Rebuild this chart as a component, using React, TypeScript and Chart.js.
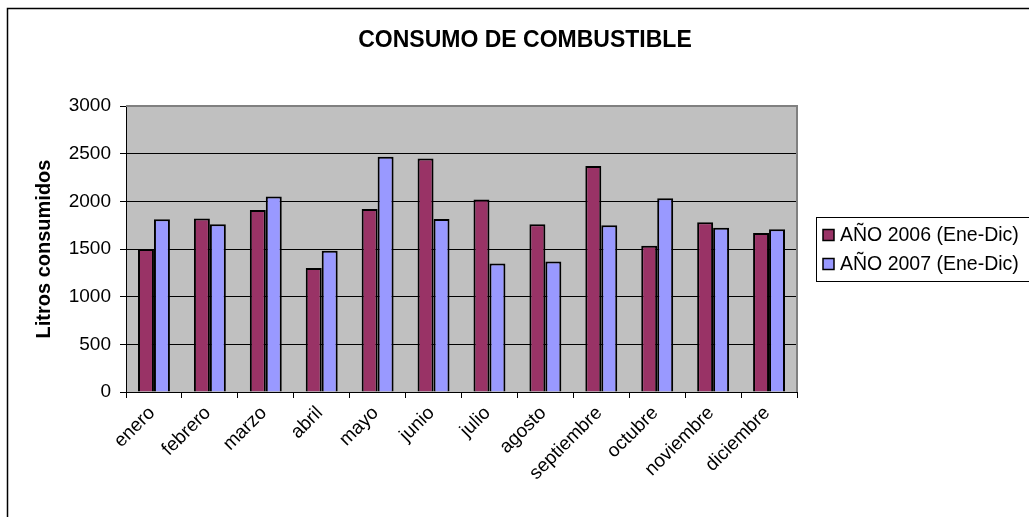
import React, { useEffect, useRef } from "react";
import { Chart, registerables } from "chart.js";

Chart.register(...registerables);

const TITLE = "CONSUMO DE COMBUSTIBLE";
const Y_TITLE = "Litros consumidos";
const categories = [
  "enero", "febrero", "marzo", "abril", "mayo", "junio",
  "julio", "agosto", "septiembre", "octubre", "noviembre", "diciembre",
];
const series2006Label = "AÑO 2006 (Ene-Dic)";
const series2007Label = "AÑO 2007 (Ene-Dic)";
const series2006 = [1500, 1820, 1910, 1300, 1920, 2450, 2020, 1760, 2370, 1535, 1780, 1668];
const series2007 = [1812, 1760, 2050, 1482, 2467, 1814, 1348, 1368, 1748, 2032, 1722, 1706];
const yTicks = [0, 500, 1000, 1500, 2000, 2500, 3000];

const FONT = "'Liberation Sans', Arial, sans-serif";

const framePlugin = {
  id: "framePlugin",
  beforeDraw(chart: any) {
    const { ctx, chartArea } = chart;
    ctx.save();
    ctx.fillStyle = "#ffffff";
    ctx.fillRect(0, 0, chart.width, chart.height);
    ctx.strokeStyle = "#000000";
    ctx.lineWidth = 1.5;
    ctx.beginPath();
    ctx.moveTo(7.5, chart.height + 2);
    ctx.lineTo(7.5, 8.5);
    ctx.lineTo(chart.width + 2, 8.5);
    ctx.stroke();
    ctx.fillStyle = "#C0C0C0";
    ctx.fillRect(chartArea.left, chartArea.top, chartArea.right - chartArea.left, chartArea.bottom - chartArea.top);
    ctx.restore();
  },
  afterDatasetsDraw(chart: any) {
    const { ctx, chartArea } = chart;
    ctx.save();
    ctx.strokeStyle = "#808080";
    ctx.lineWidth = 2;
    ctx.beginPath();
    ctx.moveTo(chartArea.left, chartArea.top);
    ctx.lineTo(chartArea.right, chartArea.top);
    ctx.lineTo(chartArea.right, chartArea.bottom);
    ctx.stroke();
    ctx.fillStyle = "#000";
    ctx.font = `bold 23px ${FONT}`;
    ctx.textAlign = "center";
    ctx.textBaseline = "middle";
    ctx.fillText(TITLE, 525, 41);
    const lx = 816, ly = 217, lh = 64;
    ctx.strokeStyle = "#000";
    ctx.lineWidth = 1;
    ctx.strokeRect(lx + 0.5, ly + 0.5, chart.width - lx + 10, lh);
    chart.data.datasets.forEach((ds: any, i: number) => {
      const cy = 235 + i * 29;
      ctx.fillStyle = ds.backgroundColor;
      ctx.fillRect(823, cy - 5.5, 11, 11);
      ctx.strokeStyle = "#000";
      ctx.lineWidth = 1.5;
      ctx.strokeRect(823, cy - 5.5, 11, 11);
      ctx.fillStyle = "#000";
      ctx.font = `19.5px ${FONT}`;
      ctx.textAlign = "left";
      ctx.textBaseline = "middle";
      ctx.fillText(ds.label, 840, cy + 1);
    });
    ctx.restore();
  },
};

export default function App() {
  const ref = useRef<HTMLCanvasElement>(null);
  useEffect(() => {
    if (!ref.current) return;
    const chart = new Chart(ref.current, {
      type: "bar",
      data: {
        labels: categories,
        datasets: [
          {
            label: series2006Label,
            data: series2006,
            backgroundColor: "#993366",
            borderColor: "#000000",
            borderWidth: 2,
            categoryPercentage: 0.571,
            barPercentage: 1.0,
          },
          {
            label: series2007Label,
            data: series2007,
            backgroundColor: "#9999FF",
            borderColor: "#000000",
            borderWidth: 2,
            categoryPercentage: 0.571,
            barPercentage: 1.0,
          },
        ],
      },
      options: {
        animation: false,
        responsive: false,
        layout: { padding: { left: 32, top: 106, right: 232, bottom: 0 } },
        plugins: {
          legend: { display: false },
          title: { display: false },
          tooltip: { enabled: false },
        },
        scales: {
          x: {
            afterFit(scale: any) { scale.height = 125; },
            grid: {
              offset: true,
              drawOnChartArea: false,
              drawTicks: true,
              tickLength: 6,
              color: "#000",
            },
            border: { display: true, color: "#000", width: 1 },
            ticks: {
              minRotation: 45,
              maxRotation: 45,
              autoSkip: false,
              color: "#000",
              padding: 4,
              labelOffset: -2,
              font: { family: FONT, size: 19 },
            },
          },
          y: {
            min: 0,
            max: 3000,
            afterFit(scale: any) { scale.width = 94; },
            afterBuildTicks(scale: any) { scale.ticks = yTicks.map((v) => ({ value: v })); },
            grid: { color: "#000", lineWidth: 1, tickLength: 6, tickColor: "#000" },
            border: { display: true, color: "#000", width: 1 },
            title: {
              display: true,
              text: Y_TITLE,
              color: "#000",
              padding: 0,
              font: { family: FONT, size: 20, weight: "bold" },
            },
            ticks: {
              color: "#000",
              padding: 9,
              font: { family: FONT, size: 19 },
              callback: (v: any) => String(v),
            },
          },
        },
      },
      plugins: [framePlugin],
    });
    return () => chart.destroy();
  }, []);
  return (
    <div style={{ position: "fixed", left: 0, top: 0, width: 1029, height: 517 }}>
      <canvas ref={ref} width={1029} height={517} style={{ width: 1029, height: 517, display: "block" }} />
    </div>
  );
}
